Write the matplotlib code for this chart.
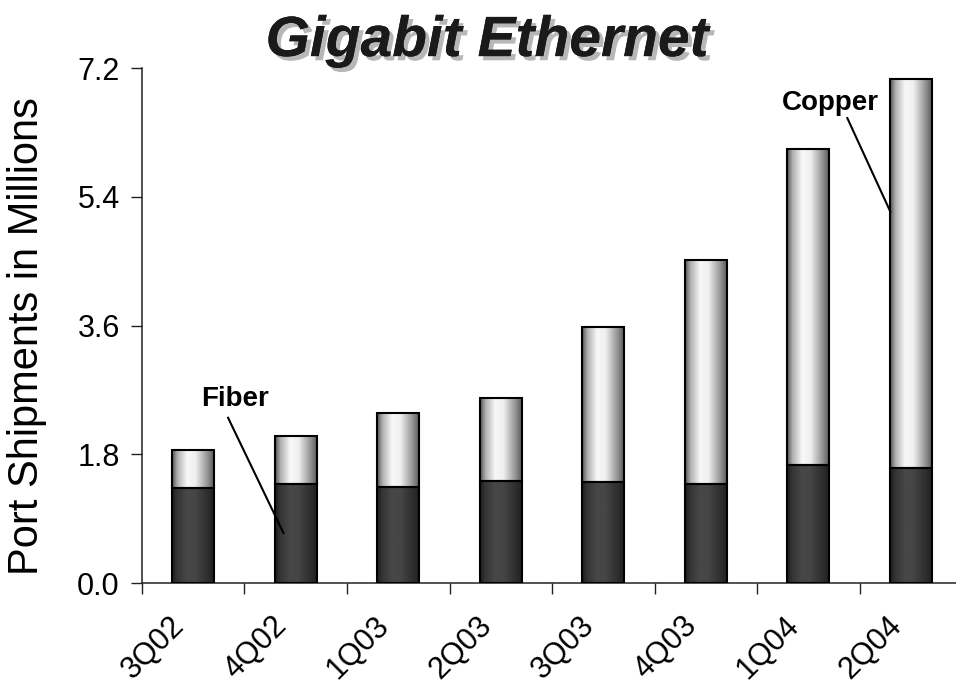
import numpy as np
import matplotlib
matplotlib.use("Agg")
import matplotlib.pyplot as plt
import matplotlib.patheffects as pe
import matplotlib.transforms as mtransforms

plt.rcParams['font.family'] = ['Liberation Sans', 'DejaVu Sans']

# data (millions of ports)
quarters = ['3Q02', '4Q02', '1Q03', '2Q03', '3Q03', '4Q03', '1Q04', '2Q04']
fiber = [1.33, 1.38, 1.34, 1.43, 1.41, 1.38, 1.65, 1.61]
total = [1.86, 2.06, 2.38, 2.59, 3.58, 4.52, 6.07, 7.05]
copper = [t - f for t, f in zip(total, fiber)]
yticks = [0.0, 1.8, 3.6, 5.4, 7.2]


def gradient(edge, peak):
    # horizontal shading across one bar: dark edges, bright a bit left of centre
    u = np.linspace(0, 1, 64)
    w = np.interp(u, [0, 0.12, 0.35, 0.55, 0.85, 1], [0, 0.55, 1, 0.95, 0.35, 0])
    g = edge + (peak - edge) * w
    return np.tile(g, (2, 1))


fig = plt.figure(figsize=(9.56, 6.85), dpi=100)
ax = fig.add_axes([0.1485, 0.1489, 0.8515, 0.7518])

x = np.arange(len(quarters))
width = 0.41
fib_bars = ax.bar(x, fiber, width, facecolor='none', edgecolor='black', linewidth=1.5, zorder=3)
cop_bars = ax.bar(x, copper, width, bottom=fiber, facecolor='none', edgecolor='black',
                  linewidth=1.5, zorder=3)

fib_img = gradient(0.12, 0.28)
cop_img = gradient(0.33, 0.97)
for bars, img in ((fib_bars, fib_img), (cop_bars, cop_img)):
    for p in bars:
        x0, y0 = p.get_x(), p.get_y()
        im = ax.imshow(img, cmap='gray', vmin=0, vmax=1, aspect='auto', interpolation='bilinear',
                       extent=(x0, x0 + p.get_width(), y0, y0 + p.get_height()), zorder=2)
        im.set_clip_path(p)

ax.set_xlim(-0.5, 7.44)
ax.set_ylim(0, 7.2)

ax.set_yticks(yticks)
ax.set_yticklabels([f'{v:.1f}' for v in yticks])
ax.set_xticks(x)
ax.set_xticklabels(quarters, rotation=45, ha='right', va='top', rotation_mode='anchor')
ax.set_xticks(np.arange(len(quarters)) - 0.5, minor=True)
ax.tick_params(axis='x', which='major', length=0, pad=20, labelsize=22)
ax.tick_params(axis='x', which='minor', length=8, width=1.0, direction='out', color='#222222')
ax.tick_params(axis='y', length=8, width=1.0, direction='out', labelsize=22, pad=8,
               color='#222222')
shift = mtransforms.ScaledTranslation(-24 / 100, 0, fig.dpi_scale_trans)
for lab in ax.get_xticklabels():
    lab.set_transform(lab.get_transform() + shift)

for s in ('top', 'right'):
    ax.spines[s].set_visible(False)
for s in ('left', 'bottom'):
    ax.spines[s].set_linewidth(1.1)
    ax.spines[s].set_color('#222222')

ax.set_ylabel('Port Shipments in Millions', fontsize=30)
ax.yaxis.set_label_coords(-0.117, 0.48)

fig.text(0.51, 0.94, 'Gigabit Ethernet', ha='center', va='center', fontsize=41,
         fontweight='bold', fontstyle='italic', color='#1a1a1a',
         path_effects=[pe.withSimplePatchShadow(offset=(3, -3), shadow_rgbFace='#999999', alpha=0.7),
                       pe.Normal()])

# callout labels with leader lines
ax.text(0.41, 2.57, 'Fiber', fontsize=20, fontweight='bold', ha='center', va='center')
ax.plot([0.34, 0.88], [2.31, 0.70], color='black', lw=1.5, zorder=4)
ax.text(6.21, 6.71, 'Copper', fontsize=20, fontweight='bold', ha='center', va='center')
ax.plot([6.38, 6.80], [6.50, 5.19], color='black', lw=1.5, zorder=4)

fig.savefig('out.png', dpi=100)
